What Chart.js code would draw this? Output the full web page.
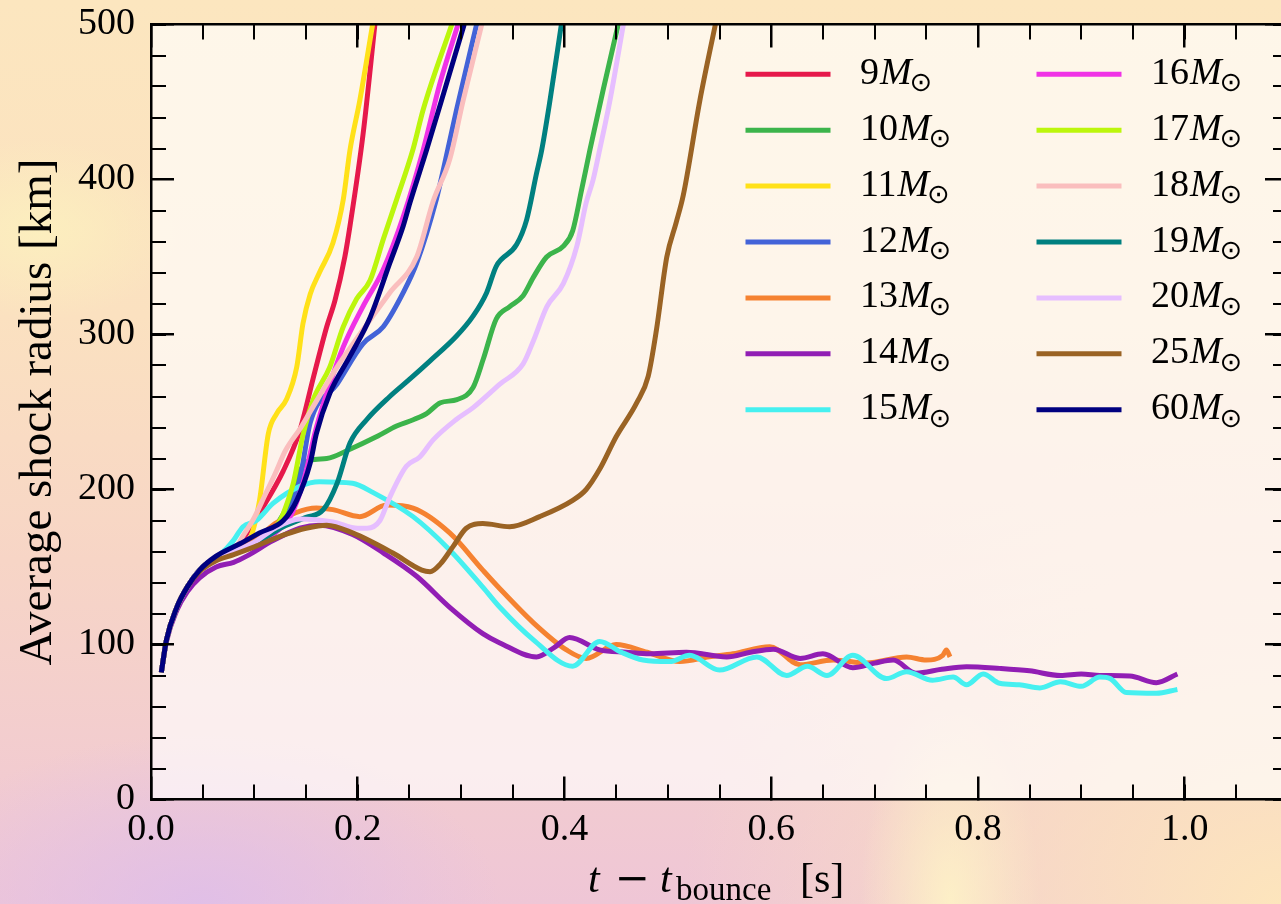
<!DOCTYPE html>
<html>
<head>
<meta charset="utf-8">
<script src="https://cdn.jsdelivr.net/npm/chart.js@4.4.1/dist/chart.umd.min.js"></script>
<style>
html, body { margin: 0; padding: 0; width: 1281px; height: 904px; overflow: hidden; }
body {
  background:
    radial-gradient(ellipse 300px 170px at 200px 904px, rgba(222,190,234,0.85), rgba(222,190,234,0) 100%),
    radial-gradient(ellipse 90px 200px at 950px 900px, rgba(255,246,198,0.8), rgba(255,246,198,0) 100%),
    radial-gradient(ellipse 600px 480px at 1281px 904px, rgba(253,229,188,1), rgba(253,229,188,0) 100%),
    radial-gradient(ellipse 140px 90px at 40px 230px, rgba(252,240,190,0.9), rgba(252,240,190,0) 100%),
    linear-gradient(180deg, #fce6bf 0%, #fbe1c0 35%, #f7d5c6 62%, #efc6d6 100%);
}
#c { display: block; }
</style>
</head>
<body>
<canvas id="c" width="1300" height="904"></canvas>
<script>
// ---------- data ----------
const masses = ['9', '10', '11', '12', '13', '14', '15', '16', '17', '18', '19', '20', '25', '60'];
const colors = ['#e6194b', '#3cb44b', '#ffe119', '#4363d8', '#f58231', '#911eb4', '#46f0f0',
                '#f032e6', '#bcf60c', '#fabebe', '#008080', '#e6beff', '#9a6324', '#000080'];

const xTickValues = [0.0, 0.2, 0.4, 0.6, 0.8, 1.0];
const yTickValues = [0, 100, 200, 300, 400, 500];

const t9  = [0.01,0.015,0.025,0.035,0.047,0.063,0.08,0.089,0.105,0.128,0.144,0.157,0.17,0.178,0.1875,0.1925,0.2053,0.2166];
const r9  = [82,103,124,137,148,156,160,168,185,212,238,272,305,322,350,370,430,500];

const t10 = [0.01,0.015,0.025,0.035,0.047,0.063,0.08,0.1,0.12,0.1344,0.144,0.154,0.17,0.1925,0.218,0.2376,0.2537,0.2666,0.28,0.296,0.3117,0.3214,0.334,0.347,0.36,0.37,0.3827,0.399,0.408,0.4165,0.4246,0.4375,0.452];
const r10 = [82,103,124,137,148,156,160,164,176,193,212,219,220,226,234,241,245,249,256,258,266,284,310,318,325,337,350,357,367,393,419,458,500];

const t11 = [0.01,0.015,0.025,0.035,0.047,0.063,0.08,0.0957,0.105,0.1135,0.1216,0.131,0.141,0.147,0.154,0.163,0.176,0.186,0.1925,0.202,0.2144];
const r11 = [82,103,124,137,148,156,160,168,193,236,249,258,279,307,326,340,359,387,419,451,500];

const t12 = [0.01,0.015,0.025,0.035,0.047,0.063,0.08,0.1,0.12,0.135,0.145,0.154,0.18,0.205,0.2247,0.244,0.257,0.276,0.2827,0.2956,0.315];
const r12 = [82,103,124,137,148,156,160,164,172,187,210,243,268,294,305,327,346,387,406,445,500];

const t13 = [0.01,0.015,0.025,0.035,0.047,0.063,0.08,0.1,0.12,0.14,0.16,0.176,0.202,0.228,0.2535,0.289,0.321,0.3375,0.37,0.402,0.421,0.45,0.48,0.5116,0.54,0.563,0.5986,0.628,0.66,0.692,0.731,0.75,0.766,0.7695,0.773];
const r13 = [82,103,124,137,148,156,160,167,178,185,188,187,182.5,190,188,172,148,136,114,96.5,91,100,95,89,92,94,98.6,87,90,88,92,90,93,96.5,92];

const t14 = [0.01,0.015,0.025,0.035,0.047,0.063,0.08,0.0925,0.118,0.144,0.163,0.195,0.225,0.257,0.289,0.321,0.3375,0.373,0.39,0.405,0.434,0.46,0.4826,0.518,0.557,0.58,0.602,0.628,0.65,0.679,0.70,0.718,0.74,0.765,0.789,0.821,0.85,0.88,0.9,0.918,0.947,0.9726,0.993];
const r14 = [82,102,122,134,143,150,153,157,167,175,177,171,159,144,124,107,101,92,98,104.5,96.5,95,94,95,92,95,97,91,94,85,88,90,81.5,84,85.7,84.6,83,80,81,80,79.7,75.4,81];

const t15 = [0.01,0.015,0.025,0.035,0.047,0.063,0.073,0.0796,0.089,0.102,0.118,0.144,0.163,0.195,0.215,0.2535,0.289,0.321,0.3375,0.37,0.408,0.434,0.455,0.476,0.502,0.521,0.55,0.586,0.615,0.635,0.654,0.679,0.7115,0.731,0.756,0.776,0.789,0.805,0.821,0.84,0.86,0.88,0.9,0.918,0.928,0.9436,0.9726,0.993];
const r15 = [82,103,124,137,148,156,162,167,176,180,191,202,205,204,198,182.5,161,137,124,103,86,102,95,90,89,93,83.5,92,80,86,80,93,78,82.5,77,79,74,81,75,74,72,76,73,79,78,69,68.5,71];

const t16 = [0.01,0.015,0.025,0.035,0.047,0.063,0.08,0.1,0.12,0.1344,0.147,0.16,0.173,0.186,0.205,0.2247,0.244,0.2633,0.2795,0.297];
const r16 = [82,103,124,137,148,156,160,164,172,182,204,240,268,292,318,342,376,419,462,500];

const t17 = [0.01,0.015,0.025,0.035,0.047,0.063,0.08,0.1,0.115,0.125,0.131,0.138,0.147,0.157,0.173,0.186,0.199,0.212,0.225,0.2376,0.2537,0.2633,0.291];
const r17 = [82,103,124,137,148,156,160,164,172,180,190,205,235,258,279,305,323,335,362,387,420,445,500];

const t18 = [0.01,0.015,0.025,0.035,0.047,0.063,0.08,0.089,0.1,0.11,0.12,0.13,0.145,0.16,0.18,0.205,0.231,0.257,0.273,0.289,0.302,0.32];
const r18 = [82,103,124,137,148,156,160,170,182,196,210,225,240,257,279,303,327,350,386,413,451,500];

const t19 = [0.01,0.015,0.025,0.035,0.047,0.063,0.08,0.1,0.128,0.15,0.1667,0.18,0.1925,0.2086,0.231,0.25,0.27,0.2956,0.3117,0.3247,0.334,0.3537,0.3634,0.373,0.378,0.386,0.397];
const r19 = [82,103,124,137,148,156,160,165,176,182,187,204,230,245,260,271,283,299,312,327,344,358,374,404,419,451,500];

const t20 = [0.01,0.015,0.025,0.035,0.047,0.063,0.08,0.1,0.12,0.144,0.176,0.2,0.209,0.2215,0.231,0.247,0.26,0.273,0.295,0.312,0.3375,0.36,0.37,0.383,0.399,0.412,0.421,0.4278,0.434,0.444,0.457];
const r20 = [82,103,124,137,148,156,160,166,175,181,179,175,175,180,195,215,221,232,245,253,268,281,296,318,333,357,385,400,419,451,500];

const t25 = [0.01,0.015,0.025,0.035,0.047,0.063,0.08,0.1,0.13,0.15,0.17,0.195,0.234,0.262,0.27,0.28,0.292,0.305,0.321,0.347,0.376,0.408,0.421,0.434,0.45,0.47,0.481,0.489,0.499,0.508,0.515,0.531,0.546];
const r25 = [82,103,124,137,147,154,158,163,171,175,177,172,159,148,147,152,163,175,178,176,182.5,193,200,213,234,256,273,303,350,372,390,451,500];

const t60 = [0.01,0.015,0.025,0.035,0.047,0.063,0.086,0.105,0.128,0.141,0.154,0.16,0.173,0.1925,0.212,0.231,0.244,0.2505,0.2666,0.286,0.303];
const r60 = [82,103,124,137,148,157,165,172,180,193,217,236,262,286,311,346,370,385,419,462,500];

const seriesT = [t9, t10, t11, t12, t13, t14, t15, t16, t17, t18, t19, t20, t25, t60];
const seriesR = [r9, r10, r11, r12, r13, r14, r15, r16, r17, r18, r19, r20, r25, r60];

// ---------- chart ----------
const SERIF = '"Liberation Serif", "Times New Roman", serif';
const N = masses.length;
const datasets = masses.map((m, i) => ({
  label: m + 'M⊙',
  data: seriesT[i].map((t, k) => ({ x: t, y: seriesR[i][k] })),
  borderColor: colors[i],
  backgroundColor: colors[i],
  borderWidth: 5,
  pointRadius: 0,
  fill: false,
  cubicInterpolationMode: 'monotone',
  order: N - 1 - i
}));

function fit(w, h) {
  return function (scale) {
    if (w !== null) scale.width = w;
    if (h !== null) scale.height = h;
    scale.paddingLeft = 0; scale.paddingRight = 0; scale.paddingTop = 0; scale.paddingBottom = 0;
  };
}

// weight: higher = further from the plot area; minor tick axes sit on the plot edge
function tickAxis(position, min, max, step, len, lw, showBorder, w, h, weight) {
  return {
    type: 'linear', position, min, max, display: true, weight,
    ticks: { stepSize: step, display: false, maxTicksLimit: 100, includeBounds: false },
    grid: { drawOnChartArea: false, drawTicks: true, tickLength: -len, color: '#000', lineWidth: lw, z: 1 },
    border: { display: showBorder, color: '#000', width: 2.5, z: 1 },
    afterFit: fit(w, h)
  };
}

const bgPlugin = {
  id: 'plotBg',
  beforeDraw(chart) {
    const { ctx, chartArea: a } = chart;
    ctx.save();
    ctx.fillStyle = 'rgba(255,255,255,0.66)';
    ctx.fillRect(a.left, a.top, a.right - a.left, a.bottom - a.top);
    ctx.restore();
  }
};

const legendPlugin = {
  id: 'massLegend',
  afterDraw(chart) {
    const ctx = chart.ctx;
    ctx.save();
    chart.data.datasets.forEach((d, i) => {
      const col = Math.floor(i / 7), row = i % 7;
      const y = 74.3 + row * 55.9;
      const lx = col === 0 ? 745.5 : 1036.5;
      ctx.strokeStyle = d.borderColor; ctx.lineWidth = 5; ctx.lineCap = 'butt';
      ctx.beginPath(); ctx.moveTo(lx, y); ctx.lineTo(lx + 85, y); ctx.stroke();
      const num = d.label.replace('M⊙', '');
      let x = col === 0 ? 860 : 1151;
      ctx.fillStyle = '#000'; ctx.textAlign = 'left'; ctx.textBaseline = 'alphabetic';
      ctx.font = '38px ' + SERIF; ctx.fillText(num, x, y + 9.5); x += ctx.measureText(num).width + 1;
      ctx.font = 'italic 38px ' + SERIF; ctx.fillText('M', x, y + 9.5); x += ctx.measureText('M').width - 2;
      ctx.font = '27px "DejaVu Sans"'; ctx.fillText('⊙', x, y + 17);
    });
    ctx.restore();
  }
};

const xTitlePlugin = {
  id: 'xTitle',
  afterDraw(chart) {
    const ctx = chart.ctx;
    ctx.save();
    ctx.fillStyle = '#000'; ctx.textBaseline = 'alphabetic';
    ctx.textAlign = 'left';
    ctx.font = 'italic 42px ' + SERIF; ctx.fillText('t', 588, 892);
    ctx.textAlign = 'center';
    ctx.font = '42px "DejaVu Serif"'; ctx.fillText('−', 632, 892);
    ctx.textAlign = 'left';
    ctx.font = 'italic 42px ' + SERIF; ctx.fillText('t', 660, 892);
    ctx.font = '33px ' + SERIF; ctx.fillText('bounce', 676, 900);
    ctx.font = '42px ' + SERIF; ctx.fillText('[s]', 800, 892);
    ctx.restore();
  }
};

new Chart(document.getElementById('c'), {
  type: 'line',
  data: { datasets },
  plugins: [bgPlugin, legendPlugin, xTitlePlugin],
  options: {
    responsive: false,
    animation: false,
    devicePixelRatio: 1,
    layout: { padding: 0 },
    plugins: { legend: { display: false }, tooltip: { enabled: false } },
    scales: {
      x: {
        type: 'linear', position: 'bottom', min: 0, max: 1.1, weight: 1,
        afterBuildTicks: (s) => { s.ticks = xTickValues.map(v => ({ value: v })); },
        ticks: { stepSize: 0.2, includeBounds: false, autoSkip: false, maxRotation: 0, padding: 31,
                 callback: (v) => Number(v).toFixed(1), color: '#000', font: { family: SERIF, size: 38 } },
        grid: { drawOnChartArea: false, drawTicks: true, tickLength: -23, color: '#000', lineWidth: 2.5, z: 1 },
        border: { display: true, color: '#000', width: 2.5, z: 1 },
        afterFit: fit(null, 104.5)
      },
      xm: tickAxis('bottom', 0, 1.1, 0.05, 15, 2, false, null, 0, 0),
      xt: tickAxis('top', 0, 1.1, 0.2, 23, 2.5, true, null, 24.5, 1),
      xtm: tickAxis('top', 0, 1.1, 0.05, 15, 2, false, null, 0, 0),
      y: {
        type: 'linear', position: 'left', min: 0, max: 500, weight: 1,
        afterBuildTicks: (s) => { s.ticks = yTickValues.map(v => ({ value: v })); },
        ticks: { stepSize: 100, autoSkip: false, padding: 39, color: '#000',
                 callback: (v) => String(Math.round(v)), font: { family: SERIF, size: 38 } },
        grid: { drawOnChartArea: false, drawTicks: true, tickLength: -23, color: '#000', lineWidth: 2.5, z: 1 },
        border: { display: true, color: '#000', width: 2.5, z: 1 },
        title: { display: true, text: 'Average shock radius [km]', color: '#000',
                 font: { family: SERIF, size: 47 }, padding: { top: 10, bottom: 0 } },
        afterFit: fit(151, null)
      },
      ym: tickAxis('left', 0, 500, 20, 15, 2, false, 0, null, 0),
      yr: tickAxis('right', 0, 500, 100, 23, 2.5, true, 12, null, 1),
      yrm: tickAxis('right', 0, 500, 20, 15, 2, false, 0, null, 0)
    }
  }
});
</script>
</body>
</html>
